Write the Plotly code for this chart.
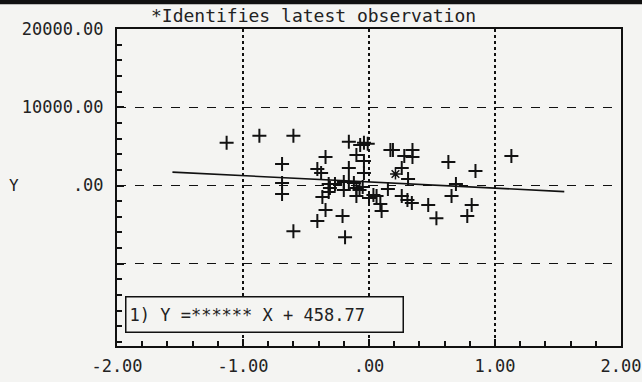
import plotly.graph_objects as go

# ---- data ----
obs_x = [-1.13, -0.87, -0.60, -0.69, -0.69, -0.69, -0.60, -0.345, -0.41, -0.38,
         -0.32, -0.31, -0.32, -0.37, -0.345, -0.41, -0.21, -0.19, -0.16, -0.07,
         -0.04, -0.01, -0.10, -0.04, -0.16, -0.04, -0.20, -0.20, -0.12, -0.10,
         -0.075, -0.05, -0.10, 0.00, 0.06, 0.09, 0.10, 0.15, 0.17, 0.19,
         0.28, 0.345, 0.345, 0.26, 0.31, 0.26, 0.305, 0.34, 0.47, 0.535,
         0.63, 0.655, 0.69, 0.845, 0.815, 0.78, 1.13, 0.035, -0.16, -0.27]
obs_y = [5450, 6350, 6350, 2760, 320, -1090, -5830, 3650, 2120, 1600,
         190, -320, -830, -1470, -3140, -4550, -3910, -6600, 5580, 5190,
         5450, 5320, 3910, 3140, 2240, 1600, 450, -580, 320, -320,
         -580, -190, -1350, -1600, -1350, -2370, -3270, -450, 4550, 4550,
         3780, 4550, 3650, 2240, 830, -1350, -1860, -2240, -2500, -4170,
         3010, -1350, 190, 1860, -2500, -3910, 3780, -1220, 450, 190]

latest_x = [0.21]
latest_y = [1470]

fit_slope = -800.0
fit_intercept = 458.77
fit_x = [-1.56, 1.55]
fit_y = [fit_slope * v + fit_intercept for v in fit_x]

x_tickvals = [-2, -1, 0, 1, 2]
x_ticktext = ["-2.00", "-1.00", ".00", "1.00", "2.00"]
y_tickvals = [-10000, 0, 10000, 20000]
y_ticktext = ["", ".00", "10000.00", "20000.00"]

title_text = "*Identifies latest observation"
fit_label = "1) Y =****** X + 458.77"

FONT = "DejaVu Sans Mono"
BG = "#f4f4f2"
INK = "#111111"

fig = go.Figure()
fig.add_trace(go.Scatter(x=fit_x, y=fit_y, mode="lines",
                         line=dict(color=INK, width=1.6), showlegend=False))
fig.add_trace(go.Scatter(x=obs_x, y=obs_y, mode="markers",
                         marker=dict(symbol="cross-thin-open", size=10, color=INK,
                                     line=dict(color=INK, width=2)),
                         showlegend=False))
fig.add_trace(go.Scatter(x=latest_x, y=latest_y, mode="markers",
                         marker=dict(symbol="asterisk-open", size=9, color=INK,
                                     line=dict(color=INK, width=1.5)),
                         showlegend=False))

fig.update_xaxes(range=[-2, 2], tickvals=x_tickvals, ticktext=x_ticktext,
                 automargin=False,
                 showgrid=True, gridcolor=INK, griddash="dot", gridwidth=1.8,
                 zeroline=False, showline=True, mirror=True, linecolor=INK,
                 linewidth=2, ticks="inside", ticklen=7, tickcolor=INK,
                 tickwidth=1.5,
                 minor=dict(dtick=0.2, tick0=0, ticks="inside", ticklen=5,
                            tickcolor=INK, tickwidth=1.5, showgrid=False),
                 tickfont=dict(family=FONT, size=17, color="#222"),
                 ticklabelstandoff=4)
fig.update_yaxes(range=[-20510, 20000], tickvals=y_tickvals, ticktext=y_ticktext,
                 automargin=False,
                 showgrid=True, gridcolor=INK, griddash="dash", gridwidth=1.2,
                 zeroline=False, showline=True, mirror=True, linecolor=INK,
                 linewidth=2, ticks="inside", ticklen=7, tickcolor=INK,
                 tickwidth=1.5,
                 minor=dict(dtick=2000, tick0=0, ticks="inside", ticklen=5,
                            tickcolor=INK, tickwidth=1.5, showgrid=False),
                 tickfont=dict(family=FONT, size=17, color="#222"),
                 ticklabelstandoff=8)

fig.add_annotation(text=title_text, xref="paper", yref="paper",
                   x=0.389, y=1.043, xanchor="center", yanchor="middle",
                   showarrow=False,
                   font=dict(family=FONT, size=18, color="#222"))
fig.add_annotation(text="Y", xref="paper", yref="y", x=-0.205, y=0,
                   xanchor="center", yanchor="middle", showarrow=False,
                   font=dict(family=FONT, size=16, color="#222"))
fig.add_annotation(text=fit_label, xref="paper", yref="paper",
                   x=0.016, y=0.04, xanchor="left", yanchor="bottom",
                   showarrow=False, align="left", width=270, height=28,
                   bordercolor=INK, borderwidth=1.5, borderpad=3,
                   bgcolor=BG,
                   font=dict(family=FONT, size=17, color="#222"))
# dark scan band at the very top of the picture
fig.add_shape(type="rect", xref="paper", yref="paper", x0=-0.24, x1=1.05,
              y0=1.078, y1=1.1, fillcolor=INK, line=dict(width=0), layer="above")

fig.update_layout(width=642, height=382, paper_bgcolor=BG, plot_bgcolor=BG,
                  margin=dict(l=117, r=21, t=29, b=36), showlegend=False)

fig.write_html("out.html", config={"displayModeBar": False},
               post_script="document.body.style.margin='0';"
                           "document.body.style.overflow='hidden';")
